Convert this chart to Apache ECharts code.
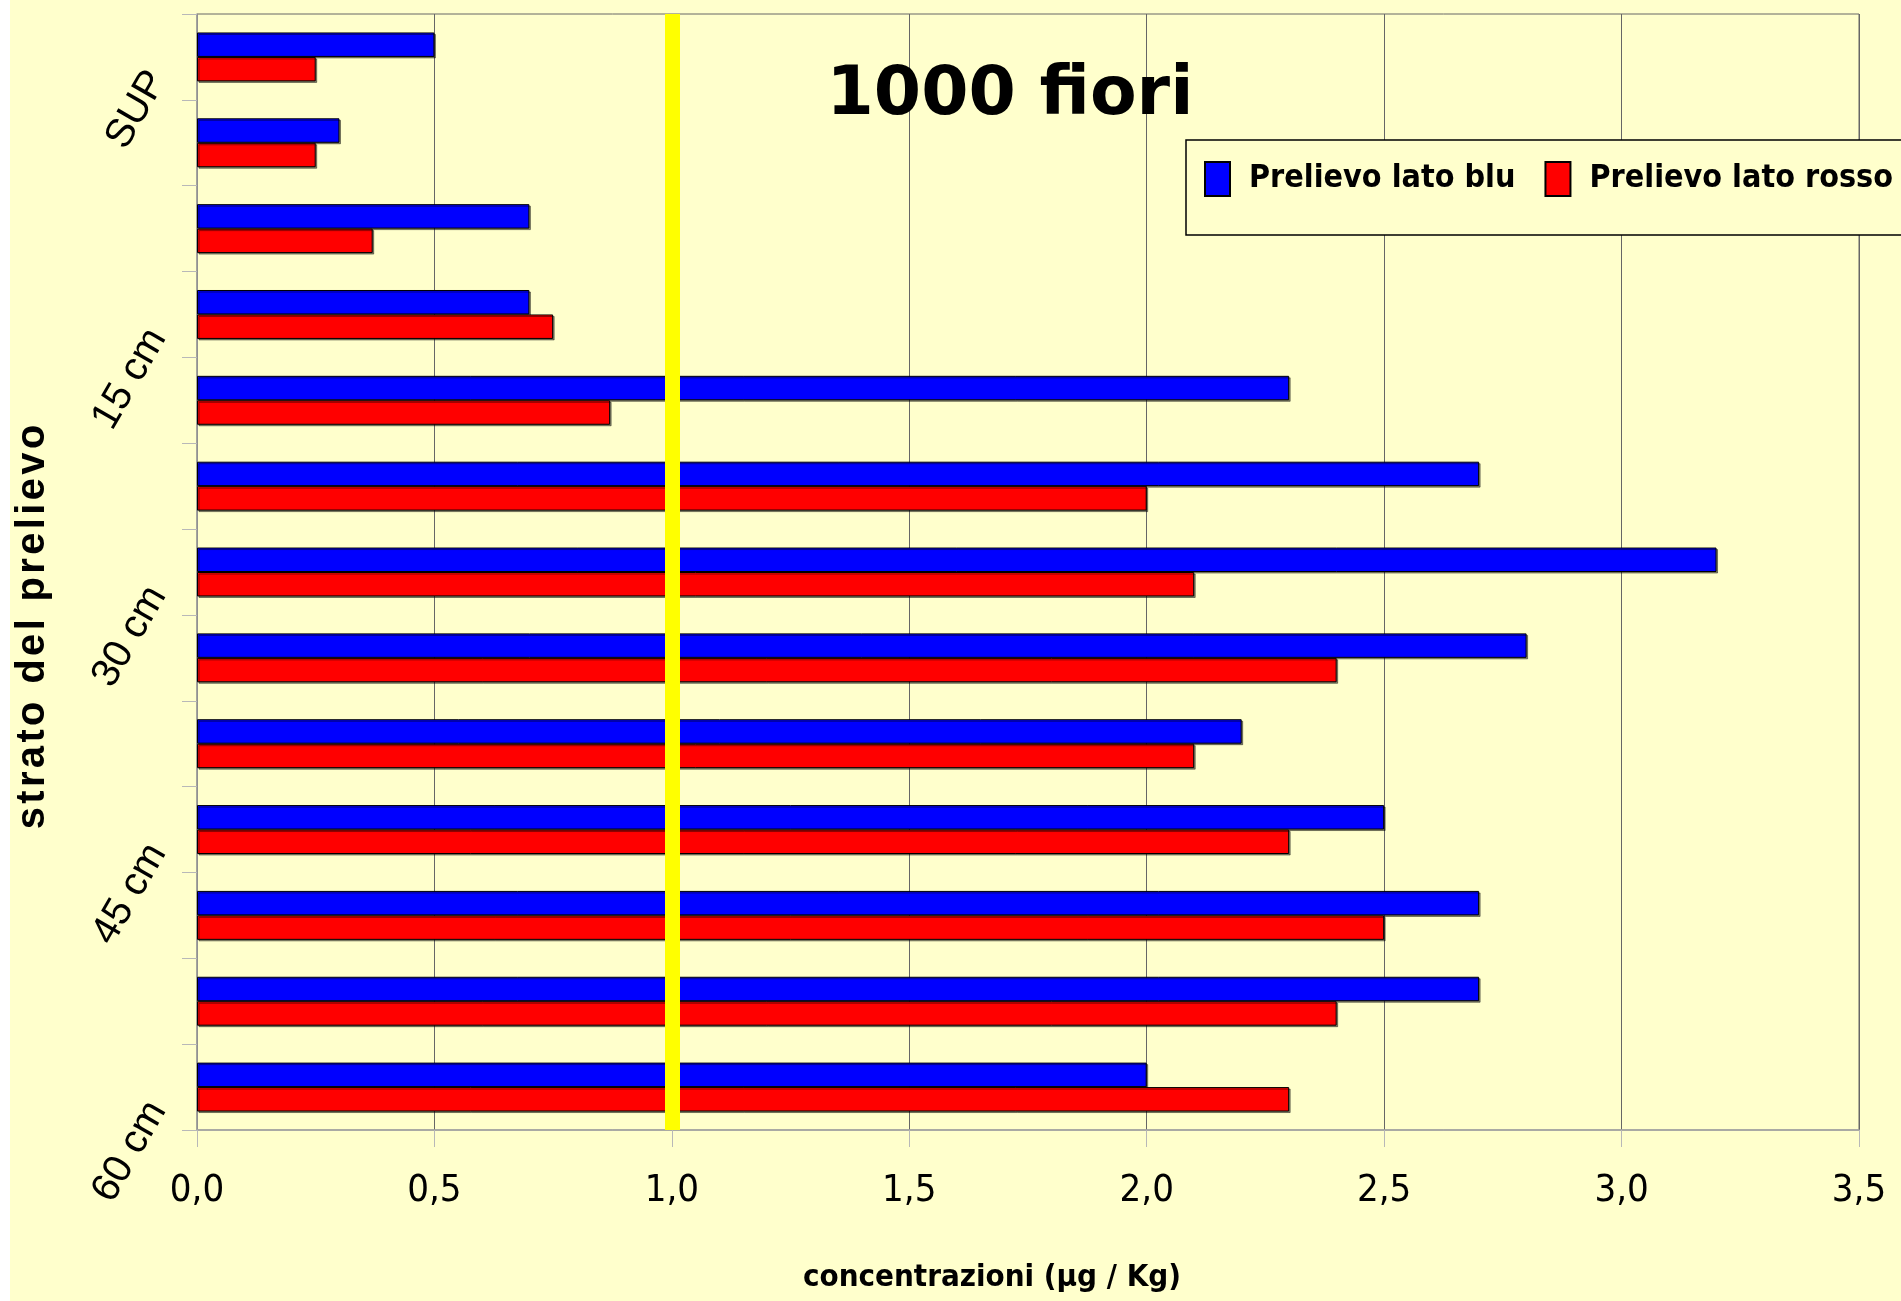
<!DOCTYPE html>
<html>
<head>
<meta charset="utf-8">
<title>1000 fiori</title>
<script src="https://cdn.jsdelivr.net/npm/echarts@6/dist/echarts.min.js"></script>
<style>
  html, body { margin: 0; padding: 0; background: #ffffff; }
  #main { width: 1901px; height: 1301px; }
</style>
</head>
<body>
<div id="main"></div>
<script>
// Soil layers sampled, from the surface down to 60 cm
const categories = ['SUP', '5 cm', '10 cm', '15 cm', '20 cm', '25 cm', '30 cm',
                    '35 cm', '40 cm', '45 cm', '50 cm', '55 cm', '60 cm'];
// Concentrations (µg / Kg) on the blue side and on the red side
const latoBlu   = [0.5, 0.3, 0.7, 0.7, 2.3, 2.7, 3.2, 2.8, 2.2, 2.5, 2.7, 2.7, 2.0];
const latoRosso = [0.25, 0.25, 0.37, 0.75, 0.87, 2.0, 2.1, 2.4, 2.1, 2.3, 2.5, 2.4, 2.3];
// Value axis range and reference threshold
const xMin = 0, xMax = 3.5, xStep = 0.5;
const soglia = 1.0;

const seriesNames = ['Prelievo lato blu', 'Prelievo lato rosso'];
const titolo = '1000 fiori';
const xTitle = 'concentrazioni (µg / Kg)';
const yTitle = 'strato del prelievo';

const narrow = '"Liberation Sans Narrow", "Arial Narrow", "DejaVu Sans Condensed", sans-serif';
const sans = '"Liberation Sans", Arial, sans-serif';

const chart = echarts.init(document.getElementById('main'));

const barStyle = (color) => ({
  color: color,
  borderColor: '#000000',
  borderWidth: 1,
  shadowColor: 'rgba(0,0,0,0.45)',
  shadowOffsetX: 1.5,
  shadowOffsetY: 1.5,
  shadowBlur: 0
});

chart.setOption({
  backgroundColor: '#ffffff',
  animation: false,
  graphic: [
    { type: 'rect', z: -10, silent: true,
      shape: { x: 10, y: 0, width: 1891, height: 1301 },
      style: { fill: '#FFFFCC' } },
    { type: 'text', z: 10, silent: true,
      x: 33, y: 627, rotation: Math.PI / 2,
      style: { text: yTitle.split('').join('\u200A'), fill: '#000',
               font: 'bold 40px ' + sans, align: 'center', verticalAlign: 'middle' } },
    { type: 'text', z: 10, silent: true,
      x: 992, y: 1278,
      style: { text: xTitle, fill: '#000',
               font: 'bold 31px ' + narrow, align: 'center', verticalAlign: 'middle' } }
  ],
  title: {
    text: titolo,
    left: 1005,
    top: 57,
    textAlign: 'center',
    textStyle: { fontFamily: '"DejaVu Sans", Verdana, sans-serif', fontWeight: 'bold',
                 fontSize: 68, color: '#000' }
  },
  legend: {
    data: seriesNames,
    left: 1186,
    top: 140,
    width: 760,
    orient: 'horizontal',
    padding: [21, 30, 38, 18],
    itemWidth: 25,
    itemHeight: 34,
    itemGap: 29,
    icon: 'rect',
    backgroundColor: '#FFFFCC',
    borderColor: '#000000',
    borderWidth: 1.5,
    textStyle: { fontFamily: narrow, fontWeight: 'bold', fontSize: 32, color: '#000',
                 padding: [6, 0, 0, 14] }
  },
  grid: {
    left: 197, right: 42, top: 14, bottom: 171,
    show: true, borderColor: '#666666', borderWidth: 1,
    backgroundColor: 'transparent'
  },
  xAxis: {
    type: 'value',
    min: xMin, max: xMax, interval: xStep,
    axisLine: { show: true, lineStyle: { color: '#a8a8a8', width: 1.5 } },
    axisTick: { show: true, length: 17, lineStyle: { color: '#b8b8b8', width: 1 } },
    splitLine: { show: true, lineStyle: { color: '#666666', width: 1 } },
    axisLabel: {
      margin: 42,
      fontFamily: narrow, fontSize: 38, color: '#000',
      formatter: (v) => v.toFixed(1).replace('.', ',')
    }
  },
  yAxis: {
    type: 'category',
    data: categories,
    inverse: true,
    axisLine: { show: true, lineStyle: { color: '#a0a0a0', width: 1.5 } },
    axisTick: { show: true, interval: 0, length: 15, alignWithLabel: false,
                lineStyle: { color: '#b8b8b8', width: 1 } },
    splitLine: { show: false },
    axisLabel: {
      interval: 2,
      rotate: 60,
      margin: 30,
      padding: [0, 20, 0, 0],
      fontFamily: sans, fontSize: 40, color: '#000'
    }
  },
  series: [
    {
      name: seriesNames[0],
      type: 'bar',
      data: latoBlu,
      barGap: '0%',
      barCategoryGap: '43%',
      itemStyle: barStyle('#0000FF')
    },
    {
      name: seriesNames[1],
      type: 'bar',
      data: latoRosso,
      barGap: '0%',
      barCategoryGap: '43%',
      itemStyle: barStyle('#FF0000'),
      markLine: {
        silent: true,
        symbol: ['none', 'none'],
        label: { show: false },
        lineStyle: { color: '#FFFF00', width: 15, type: 'solid', opacity: 1 },
        data: [{ xAxis: soglia }]
      }
    }
  ]
});
</script>
</body>
</html>
